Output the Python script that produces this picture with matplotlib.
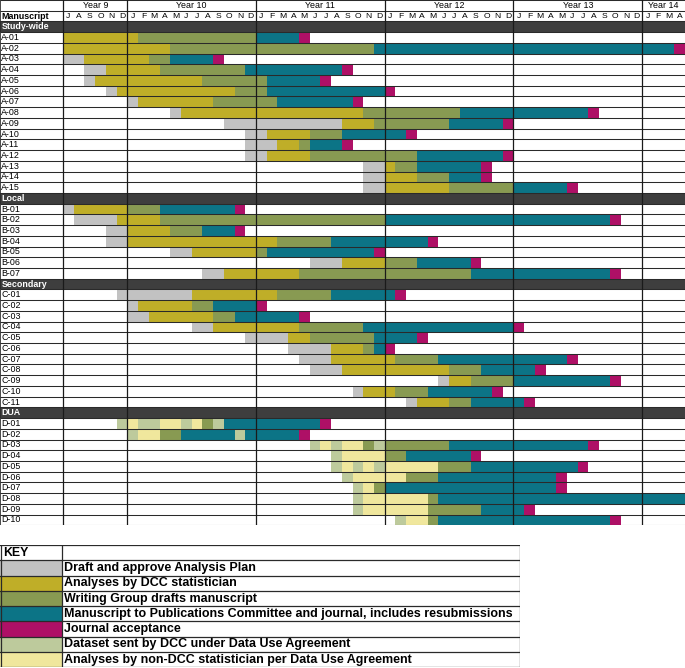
import matplotlib
matplotlib.use("Agg")
import matplotlib.pyplot as plt

plt.rcParams['font.family'] = ['Liberation Sans', 'DejaVu Sans']

# phase colours
colors = {
    'plan': '#C2C2C2',
    'dcc': '#BFAE28',
    'write': '#889A52',
    'pub': '#0C7486',
    'acc': '#AE1066',
    'sent': '#BDCA9C',
    'non': '#F0E79D',
}

key_labels = [
    ('plan', "Draft and approve Analysis Plan"),
    ('dcc', "Analyses by DCC statistician"),
    ('write', "Writing Group drafts manuscript"),
    ('pub', "Manuscript to Publications Committee and journal, includes resubmissions"),
    ('acc', "Journal acceptance"),
    ('sent', "Dataset sent by DCC under Data Use Agreement"),
    ('non', "Analyses by non-DCC statistician per Data Use Agreement"),
]

years = ["Year 9", "Year 10", "Year 11", "Year 12", "Year 13", "Year 14"]
year_months = [6, 12, 12, 12, 12, 4]
months = list("JASOND") + list("JFMAMJJASOND") * 4 + list("JFMA")

# months counted from July of Year 9: (phase, start, end)
study_wide = [
    ("A-01", [('dcc', 0, 7), ('write', 7, 18), ('pub', 18, 22), ('acc', 22, 23)]),
    ("A-02", [('dcc', 0, 10), ('write', 10, 29), ('pub', 29, 57), ('acc', 57, 58)]),
    ("A-03", [('plan', 0, 2), ('dcc', 2, 8), ('write', 8, 10), ('pub', 10, 14), ('acc', 14, 15)]),
    ("A-04", [('plan', 2, 4), ('dcc', 4, 9), ('write', 9, 17), ('pub', 17, 26), ('acc', 26, 27)]),
    ("A-05", [('plan', 2, 3), ('dcc', 3, 13), ('write', 13, 19), ('pub', 19, 24), ('acc', 24, 25)]),
    ("A-06", [('plan', 4, 5), ('dcc', 5, 16), ('write', 16, 19), ('pub', 19, 30), ('acc', 30, 31)]),
    ("A-07", [('plan', 6, 7), ('dcc', 7, 14), ('write', 14, 20), ('pub', 20, 27), ('acc', 27, 28)]),
    ("A-08", [('plan', 10, 11), ('dcc', 11, 28), ('write', 28, 37), ('pub', 37, 49), ('acc', 49, 50)]),
    ("A-09", [('plan', 15, 26), ('dcc', 26, 29), ('write', 29, 36), ('pub', 36, 41), ('acc', 41, 42)]),
    ("A-10", [('plan', 17, 19), ('dcc', 19, 23), ('write', 23, 26), ('pub', 26, 32), ('acc', 32, 33)]),
    ("A-11", [('plan', 17, 20), ('dcc', 20, 22), ('write', 22, 23), ('pub', 23, 26), ('acc', 26, 27)]),
    ("A-12", [('plan', 17, 19), ('dcc', 19, 23), ('write', 23, 33), ('pub', 33, 41), ('acc', 41, 42)]),
    ("A-13", [('plan', 28, 30), ('dcc', 30, 31), ('write', 31, 33), ('pub', 33, 39), ('acc', 39, 40)]),
    ("A-14", [('plan', 28, 30), ('dcc', 30, 33), ('write', 33, 36), ('pub', 36, 39), ('acc', 39, 40)]),
    ("A-15", [('plan', 28, 30), ('dcc', 30, 36), ('write', 36, 42), ('pub', 42, 47), ('acc', 47, 48)]),
]

local = [
    ("B-01", [('plan', 0, 1), ('dcc', 1, 6), ('write', 6, 9), ('pub', 9, 16), ('acc', 16, 17)]),
    ("B-02", [('plan', 1, 5), ('dcc', 5, 9), ('write', 9, 30), ('pub', 30, 51), ('acc', 51, 52)]),
    ("B-03", [('plan', 4, 6), ('dcc', 6, 10), ('write', 10, 13), ('pub', 13, 16), ('acc', 16, 17)]),
    ("B-04", [('plan', 4, 6), ('dcc', 6, 20), ('write', 20, 25), ('pub', 25, 34), ('acc', 34, 35)]),
    ("B-05", [('plan', 10, 12), ('dcc', 12, 18), ('write', 18, 19), ('pub', 19, 29), ('acc', 29, 30)]),
    ("B-06", [('plan', 23, 26), ('dcc', 26, 30), ('write', 30, 33), ('pub', 33, 38), ('acc', 38, 39)]),
    ("B-07", [('plan', 13, 15), ('dcc', 15, 22), ('write', 22, 38), ('pub', 38, 51), ('acc', 51, 52)]),
]

secondary = [
    ("C-01", [('plan', 5, 12), ('dcc', 12, 20), ('write', 20, 25), ('pub', 25, 31), ('acc', 31, 32)]),
    ("C-02", [('plan', 6, 7), ('dcc', 7, 12), ('write', 12, 14), ('pub', 14, 18), ('acc', 18, 19)]),
    ("C-03", [('plan', 6, 8), ('dcc', 8, 14), ('write', 14, 16), ('pub', 16, 22), ('acc', 22, 23)]),
    ("C-04", [('plan', 12, 14), ('dcc', 14, 22), ('write', 22, 28), ('pub', 28, 42), ('acc', 42, 43)]),
    ("C-05", [('plan', 17, 21), ('dcc', 21, 23), ('write', 23, 29), ('pub', 29, 33), ('acc', 33, 34)]),
    ("C-06", [('plan', 21, 25), ('dcc', 25, 28), ('write', 28, 29), ('pub', 29, 30), ('acc', 30, 31)]),
    ("C-07", [('plan', 22, 25), ('dcc', 25, 31), ('write', 31, 35), ('pub', 35, 47), ('acc', 47, 48)]),
    ("C-08", [('plan', 23, 26), ('dcc', 26, 36), ('write', 36, 39), ('pub', 39, 44), ('acc', 44, 45)]),
    ("C-09", [('plan', 35, 36), ('dcc', 36, 38), ('write', 38, 42), ('pub', 42, 51), ('acc', 51, 52)]),
    ("C-10", [('plan', 27, 28), ('dcc', 28, 31), ('write', 31, 34), ('pub', 34, 40), ('acc', 40, 41)]),
    ("C-11", [('plan', 32, 33), ('dcc', 33, 36), ('write', 36, 38), ('pub', 38, 43), ('acc', 43, 44)]),
]

dua = [
    ("D-01", [('sent', 5, 6), ('non', 6, 7), ('sent', 7, 9), ('non', 9, 11), ('sent', 11, 12), ('non', 12, 13),
              ('write', 13, 14), ('sent', 14, 15), ('pub', 15, 24), ('acc', 24, 25)]),
    ("D-02", [('sent', 6, 7), ('non', 7, 9), ('write', 9, 11), ('pub', 11, 16), ('sent', 16, 17), ('pub', 17, 22),
              ('acc', 22, 23)]),
    ("D-03", [('sent', 23, 24), ('non', 24, 25), ('sent', 25, 26), ('non', 26, 28), ('write', 28, 29), ('sent', 29, 30),
              ('write', 30, 36), ('pub', 36, 49), ('acc', 49, 50)]),
    ("D-04", [('sent', 25, 26), ('non', 26, 30), ('write', 30, 32), ('pub', 32, 38), ('acc', 38, 39)]),
    ("D-05", [('sent', 25, 26), ('non', 26, 27), ('sent', 27, 28), ('non', 28, 29), ('sent', 29, 30), ('non', 30, 35),
              ('write', 35, 38), ('pub', 38, 48), ('acc', 48, 49)]),
    ("D-06", [('sent', 26, 27), ('non', 27, 32), ('write', 32, 35), ('pub', 35, 46), ('acc', 46, 47)]),
    ("D-07", [('sent', 27, 28), ('non', 28, 29), ('write', 29, 30), ('pub', 30, 46), ('acc', 46, 47)]),
    ("D-08", [('sent', 27, 28), ('non', 28, 34), ('write', 34, 35), ('pub', 35, 58)]),
    ("D-09", [('sent', 27, 28), ('non', 28, 34), ('write', 34, 39), ('pub', 39, 43), ('acc', 43, 44)]),
    ("D-10", [('sent', 31, 32), ('non', 32, 34), ('write', 34, 35), ('pub', 35, 51), ('acc', 51, 52)]),
]

sections = [("Study-wide", study_wide), ("Local", local), ("Secondary", secondary), ("DUA", dua)]

W, H = 685, 668
ROWPX = 10.72
nmonths = sum(year_months)

fig = plt.figure(figsize=(W / 100, H / 100), dpi=100)
nrows = 2 + sum(1 + len(s[1]) for s in sections)
ax = fig.add_axes([0, 1 - nrows * ROWPX / H, 1, nrows * ROWPX / H])
lab = -63 / ROWPX
ax.set_xlim(lab, nmonths)
ax.set_ylim(nrows, 0)
ax.axis('off')

fs = 6.4
# header: years and months
start = 0
for yname, n in zip(years, year_months):
    ax.text(start + n / 2, 0.5, yname, ha='center', va='center', fontsize=fs)
    start += n
for i, m in enumerate(months):
    ax.text(i + 0.5, 1.5, m, ha='center', va='center', fontsize=fs - 0.3)
ax.text(lab + 0.12, 1.5, "Manuscript", ha='left', va='center', fontsize=fs, fontweight='bold')

row = 2
for sname, items in sections:
    ax.barh(row + 0.5, nmonths - lab, left=lab, height=1, color='#3E3E3E', linewidth=0, zorder=1)
    ax.text(lab + 0.12, row + 0.5, sname, ha='left', va='center', fontsize=fs,
            fontweight='bold', color='white', zorder=4)
    row += 1
    for name, phases in items:
        ax.text(lab + 0.12, row + 0.5, name, ha='left', va='center', fontsize=fs)
        for ph, s, e in phases:
            ax.barh(row + 0.5, e - s, left=s, height=1, color=colors[ph], linewidth=0, zorder=1)
        row += 1

# grid lines
for r in range(nrows + 1):
    ax.plot([lab, nmonths], [r, r], color='#2A2A2A', lw=0.75, zorder=3, solid_capstyle='butt')
ax.plot([lab, lab], [0, nrows], color='#2A2A2A', lw=1.2, zorder=3)
bounds = [0]
for n in year_months[:-1]:
    bounds.append(bounds[-1] + n)
for b in bounds:
    ax.plot([b, b], [0, nrows], color='#1A1A1A', lw=0.9, zorder=3)

# key table
KTOP = 545
kax = fig.add_axes([0, 1 / H, 520 / W, (H - 1 - KTOP) / H])
kax.set_xlim(0, 520)
kax.set_ylim(8, 0)
kax.axis('off')
kax.text(3, 0.52, "KEY", ha='left', va='center', fontsize=8.8, fontweight='bold')
for i, (ph, txt) in enumerate(key_labels):
    kax.barh(i + 1.5, 62, left=0, height=1, color=colors[ph], linewidth=0, zorder=1)
    kax.text(64, i + 1.52, txt, ha='left', va='center', fontsize=9.0, fontweight='bold')
for r in range(9):
    kax.plot([0, 520], [r, r], color='#2A2A2A', lw=0.9, zorder=3)
for x in [0.5, 62, 519.5]:
    kax.plot([x, x], [0, 8], color='#2A2A2A', lw=0.9, zorder=3)

fig.savefig("out.png", dpi=100)
